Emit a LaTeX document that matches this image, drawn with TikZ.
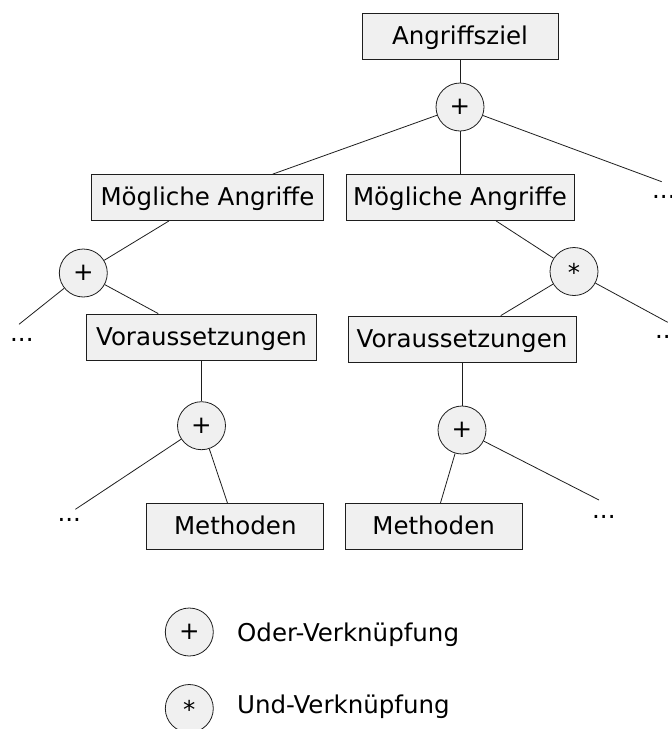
\documentclass[tikz,border=0pt]{standalone}
\usepackage{fontspec}
\setmainfont{DejaVu Sans}
\definecolor{boxfill}{RGB}{240,240,240}
\definecolor{linecol}{RGB}{30,30,30}
\begin{document}
\begin{tikzpicture}[x=1pt, y=-1pt,
  font=\fontsize{24.5}{29}\selectfont,
  box/.style={draw=linecol, fill=boxfill, line width=0.8pt, inner sep=0pt,
    minimum height=46pt, text height=20pt, text depth=4pt},
  op/.style={circle, draw=linecol, fill=boxfill, line width=0.8pt,
    inner sep=0pt, minimum size=48pt},
  star/.style={text height=20.4pt, text depth=0pt},
  more/.style={anchor=base west, inner sep=0pt},
  legendtext/.style={anchor=base west, inner sep=0pt},
  edge/.style={draw=linecol, line width=0.8pt}]
\clip (0,0) rectangle (672,729);

% attack tree
\node[box, minimum width=196pt] (goal) at (460,36.5) {Angriffsziel};
\node[op] (or1) at (460,107) {+};
\node[box, minimum width=232pt] (ma1) at (207.5,197.5) {Mögliche Angriffe};
\node[box, minimum width=228pt] (ma2) at (460,197.5) {Mögliche Angriffe};
\node[op] (or2) at (83.3,273) {+};
\node[op, star] (and1) at (574,271.5) {*};
\node[box, minimum width=230pt] (v1) at (201.5,337) {Voraussetzungen};
\node[box, minimum width=228pt] (v2) at (462,339) {Voraussetzungen};
\node[op] (or3) at (201.5,425.7) {+};
\node[op] (or4) at (462,430) {+};
\node[box, minimum width=177pt] (m1) at (235.3,526.3) {Methoden};
\node[box, minimum width=177pt] (m2) at (433.6,526.3) {Methoden};

% elided branches
\node[more] (dTR) at (652,198.2) {...};
\node[more] (dL) at (10,341.5) {...};
\node[more] (dR) at (655,338) {...};
\node[more] (dBL) at (57.4,521.5) {...};
\node[more] (dBR) at (592,518) {...};
\coordinate (eTR) at (661.7,181.7);
\coordinate (eL) at (19,324.3);
\coordinate (eR) at (667.7,322.3);
\coordinate (eBL) at (75.4,509.3);
\coordinate (eBR) at (599,500);

% connections
\draw[edge] (goal) -- (or1);
\draw[edge] (or1) -- (ma1);
\draw[edge] (or1) -- (ma2);
\draw[edge] (or1) -- (eTR);
\draw[edge] (ma1) -- (or2);
\draw[edge] (or2) -- (eL);
\draw[edge] (or2) -- (v1);
\draw[edge] (ma2) -- (and1);
\draw[edge] (and1) -- (v2);
\draw[edge] (and1) -- (eR);
\draw[edge] (v1) -- (or3);
\draw[edge] (or3) -- (eBL);
\draw[edge] (or3) -- (m1);
\draw[edge] (v2) -- (or4);
\draw[edge] (or4) -- (m2);
\draw[edge] (or4) -- (eBR);

% legend
\node[op] (kor) at (189.3,632) {+};
\node[legendtext] (tor) at (237,641.5) {Oder-Verknüpfung};
\node[op, star] (kand) at (189.3,708.5) {*};
\node[legendtext] (tand) at (237,713) {Und-Verknüpfung};
\end{tikzpicture}
\end{document}
